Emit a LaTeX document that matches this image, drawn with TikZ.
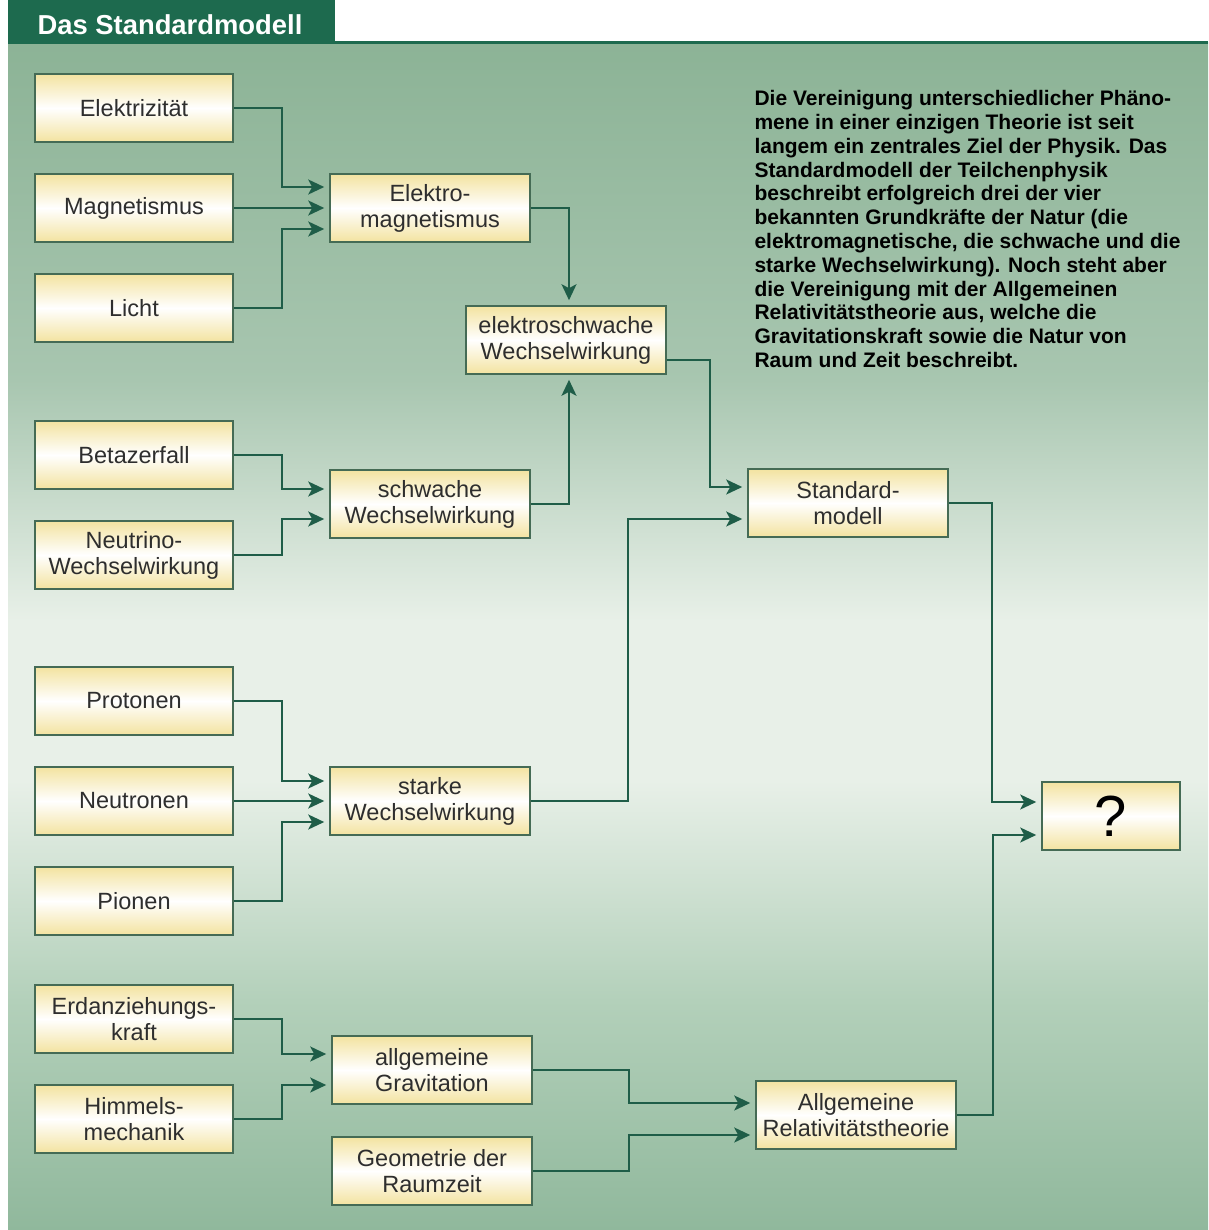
\documentclass[tikz,border=0pt]{standalone}
\usepackage{fontspec}
\setmainfont{Liberation Sans}
\usetikzlibrary{arrows.meta,positioning}
\definecolor{titlegreen}{HTML}{1D6A4E}
\definecolor{boxline}{HTML}{456B55}
\definecolor{boxyel}{HTML}{F3E3A0}
\definecolor{boxtext}{HTML}{2E2E2E}
\definecolor{arrowgreen}{HTML}{1F5D48}
\definecolor{bgtop}{HTML}{8CB396}
\definecolor{bgmidA}{HTML}{A8C6B0}
\definecolor{bglight}{HTML}{E8F0E8}
\definecolor{bgmidB}{HTML}{B3D0BA}
\definecolor{bgbot}{HTML}{90B89C}
\tikzset{
  cause/.style={draw=boxline, line width=1.6pt, minimum width=198pt, minimum height=68pt, inner sep=2pt, align=center, top color=boxyel, bottom color=boxyel, middle color=white, text=boxtext, font=\fontsize{23.5}{26}\selectfont},
  force/.style={cause, minimum width=200pt},
  flow/.style={-{Stealth[length=16pt,width=15pt,inset=4pt]}, line width=2.2pt, draw=arrowgreen, shorten >=5pt}
}
\begin{document}
\begin{tikzpicture}[x=1pt, y=-1pt]
  \useasboundingbox (0,0) rectangle (1208,1230);
  \fill[white] (0,0) rectangle (1208,1230);
  % background panel
  \shade[top color=bgtop, bottom color=bgmidA] (8,43) rectangle (1208,381);
  \shade[top color=bgmidA, bottom color=bglight] (8,380) rectangle (1208,621);
  \fill[bglight] (8,620) rectangle (1208,781);
  \shade[top color=bglight, bottom color=bgmidB] (8,780) rectangle (1208,1001);
  \shade[top color=bgmidB, bottom color=bgbot] (8,1000) rectangle (1208,1230);
  \fill[titlegreen] (8,0) rectangle (335,43);
  \draw[titlegreen, line width=3pt] (8,43) -- (1208,43);
  \node[anchor=base west, text=white, font=\bfseries\fontsize{27.4}{30}\selectfont] (title) at (34,35) {Das Standardmodell};

  % left column
  \node[cause] (elek) at (134,108) {Elektrizität};
  \node[cause, below=30.4pt of elek] (magn) {Magnetismus};
  \node[cause, below=30.4pt of magn] (licht) {Licht};
  \node[cause, below=77.4pt of licht] (beta) {Betazerfall};
  \node[cause, below=30.4pt of beta] (neut) {Neutrino-\\Wechselwirkung};
  \node[cause, below=76.4pt of neut] (prot) {Protonen};
  \node[cause, below=30.4pt of prot] (neutr) {Neutronen};
  \node[cause, below=30.4pt of neutr] (pion) {Pionen};
  \node[cause, below=48.4pt of pion] (erd) {Erdanziehungs-\\kraft};
  \node[cause, below=30.4pt of erd] (himm) {Himmels-\\mechanik};

  % forces
  \node[force, right=95.4pt of magn] (em) {Elektro-\\magnetismus};
  \node[force, below=226.4pt of em] (schw) {schwache\\Wechselwirkung};
  \node[force, right=95.4pt of neutr] (stark) {starke\\Wechselwirkung};
  \node[force] (grav) at (432,1070) {allgemeine\\Gravitation};
  \node[force, below=31.4pt of grav] (geom) {Geometrie der\\Raumzeit};
  \node[force] (ew) at (566,340) {elektroschwache\\Wechselwirkung};
  \node[force] (sm) at (848,503) {Standard-\\modell};
  \node[force] (art) at (856,1115) {Allgemeine\\Relativitätstheorie};
  \node[force, minimum width=138pt, font=\fontsize{58}{60}\selectfont, text=black] (q) at (1111,816) {?};

  \node[anchor=north west, align=left, text=black, font=\bfseries\fontsize{21}{23.8}\selectfont] (info) at (751,87)
    {Die Vereinigung unterschiedlicher Phäno-\\
     mene in einer einzigen Theorie ist seit\\
     langem ein zentrales Ziel der Physik. Das\\
     Standardmodell der Teilchenphysik\\
     beschreibt erfolgreich drei der vier\\
     bekannten Grundkräfte der Natur (die\\
     elektromagnetische, die schwache und die\\
     starke Wechselwirkung). Noch steht aber\\
     die Vereinigung mit der Allgemeinen\\
     Relativitätstheorie aus, welche die\\
     Gravitationskraft sowie die Natur von\\
     Raum und Zeit beschreibt.};

  % connectors
  \draw[flow] (elek.east) -- ++(48,0) |- ([yshift=21pt]em.west);
  \draw[flow] (magn) -- (em);
  \draw[flow] (licht.east) -- ++(48,0) |- ([yshift=-21pt]em.west);
  \draw[flow] (em.east) -| ([xshift=3pt]ew.north);
  \draw[flow] (beta.east) -- ++(48,0) |- ([yshift=15pt]schw.west);
  \draw[flow] (neut.east) -- ++(48,0) |- ([yshift=-15pt]schw.west);
  \draw[flow] (schw.east) -| ([xshift=3pt]ew.south);
  \draw[flow] ([yshift=-20pt]ew.east) -- ++(43,0) |- ([yshift=16pt]sm.west);
  \draw[flow] (prot.east) -- ++(48,0) |- ([yshift=20pt]stark.west);
  \draw[flow] (neutr) -- (stark);
  \draw[flow] (pion.east) -- ++(48,0) |- ([yshift=-21pt]stark.west);
  \draw[flow] (stark.east) -- ++(97,0) |- ([yshift=-16pt]sm.west);
  \draw[flow] (erd.east) -- ++(48,0) |- ([yshift=16pt]grav.west);
  \draw[flow] (himm.east) -- ++(48,0) |- ([yshift=-15pt]grav.west);
  \draw[flow] (grav.east) -- ++(96,0) |- ([yshift=12pt]art.west);
  \draw[flow] (geom.east) -- ++(96,0) |- ([yshift=-20pt]art.west);
  \draw[flow] (sm.east) -- ++(43,0) |- ([yshift=14pt]q.west);
  \draw[flow] (art.east) -- ++(36,0) |- ([yshift=-19pt]q.west);
\end{tikzpicture}
\end{document}
